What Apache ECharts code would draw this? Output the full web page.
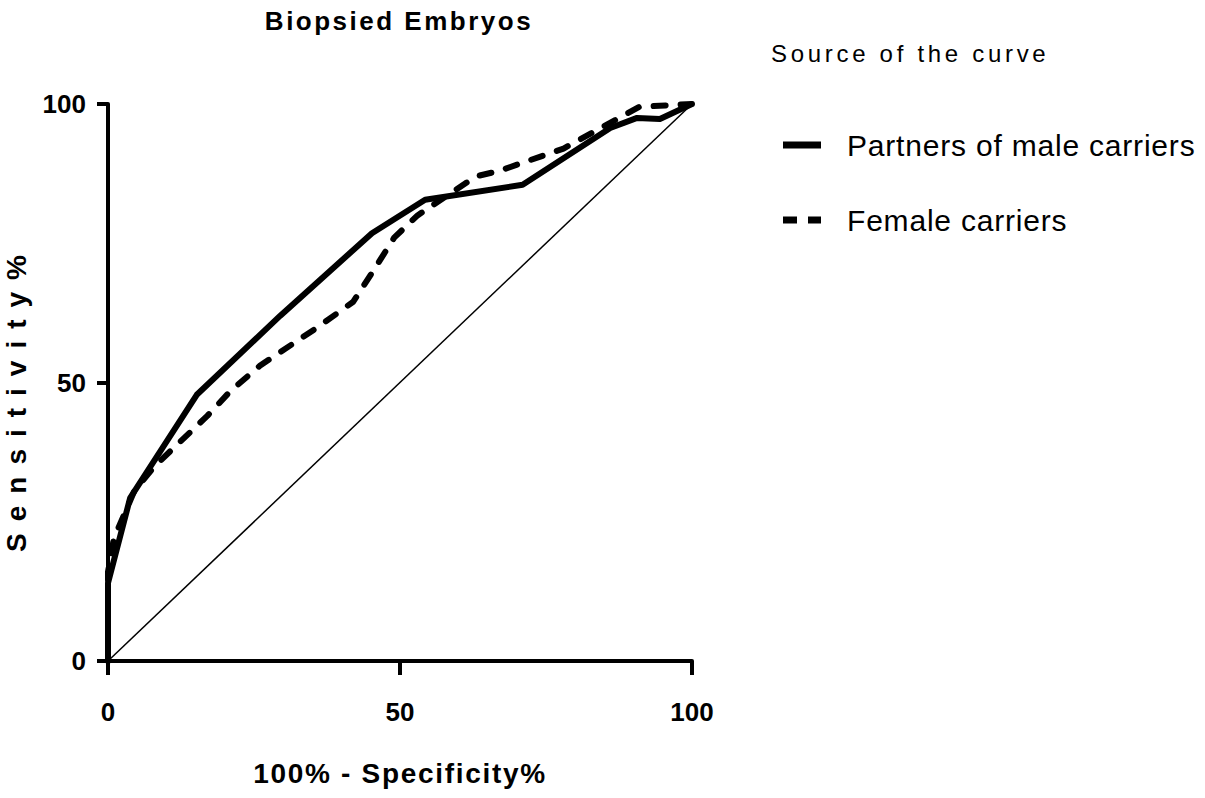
<!DOCTYPE html>
<html>
<head>
<meta charset="utf-8">
<script src="https://cdn.jsdelivr.net/npm/echarts@6/dist/echarts.min.js"></script>
<style>
html,body{margin:0;padding:0;background:#fff;}
#main{width:1205px;height:798px;}
</style>
</head>
<body>
<div id="main"></div>
<script>
// Data
const seriesNames = ['Partners of male carriers', 'Female carriers'];
const maleX = [0, 0, 3.8, 15.2, 29.5, 45.2, 54.3, 71, 86, 90.6, 94.5, 100];
const maleY = [0, 14, 29.3, 47.8, 62, 76.8, 82.8, 85.5, 95.7, 97.5, 97.3, 100];
const femaleX = [0, 0, 1, 4.5, 8, 17, 21, 26, 36, 42, 46, 49, 53, 63, 67, 78, 91, 100];
const femaleY = [0, 16, 22, 30.5, 35, 44, 48.5, 53, 60, 64.5, 71, 76, 80, 87, 88, 92, 99.5, 100];
const refX = [0, 100];
const refY = [0, 100];
const tickValues = [0, 50, 100];

const FONT = '"Liberation Sans", Arial, sans-serif';
const zip = (xs, ys) => xs.map((x, i) => [x, ys[i]]);

const chart = echarts.init(document.getElementById('main'), null, {renderer: 'svg'});
chart.setOption({
  animation: false,
  backgroundColor: '#fff',
  textStyle: {fontFamily: FONT, color: '#000'},
  title: [
    {text: 'Biopsied Embryos', left: 394, top: 3, textAlign: 'center',
     textStyle: {fontFamily: FONT, fontWeight: 'bold', fontSize: 26, color: '#000'}},
    {text: 'Source of the curve', left: 766, top: 36,
     textStyle: {fontFamily: FONT, fontWeight: 'normal', fontSize: 24, color: '#000'}}
  ],
  legend: {
    orient: 'vertical', left: 778, top: 125, itemWidth: 38, itemHeight: 7, itemGap: 45,
    data: [
      {name: seriesNames[0], icon: 'path://M0,0H38V7H0Z'},
      {name: seriesNames[1], icon: 'path://M0,0H14V7H0Z M25,0H38V7H25Z'}
    ],
    itemStyle: {color: '#000', borderWidth: 0},
    textStyle: {fontFamily: FONT, fontSize: 30, color: '#000', padding: [0, 0, 0, 21]},
    selectedMode: false
  },
  grid: {left: 108, right: 513, top: 104, bottom: 137, containLabel: false},
  xAxis: {
    type: 'value', min: 0, max: 100, interval: 50,
    name: '100% - Specificity%', nameLocation: 'middle', nameGap: 98,
    nameTextStyle: {fontFamily: FONT, fontWeight: 'bold', fontSize: 28, color: '#000'},
    axisLine: {show: true, lineStyle: {color: '#000', width: 4}},
    axisTick: {show: true, inside: false, length: 14, lineStyle: {color: '#000', width: 4}},
    axisLabel: {margin: 38, fontFamily: FONT, fontWeight: 'bold', fontSize: 26, color: '#000',
      formatter: v => tickValues.includes(v) ? String(v) : ''},
    splitLine: {show: false}
  },
  yAxis: {
    type: 'value', min: 0, max: 100, interval: 50,
    name: 'Sensitivity%', nameLocation: 'middle', nameGap: 78, nameRotate: 90,
    nameTextStyle: {fontFamily: FONT, fontWeight: 'bold', fontSize: 28, color: '#000', padding: [0, 30, 0, 0]},
    axisLine: {show: true, lineStyle: {color: '#000', width: 4}},
    axisTick: {show: true, inside: false, length: 11, lineStyle: {color: '#000', width: 4}},
    axisLabel: {margin: 22, fontFamily: FONT, fontWeight: 'bold', fontSize: 26, color: '#000',
      formatter: v => tickValues.includes(v) ? String(v) : ''},
    splitLine: {show: false}
  },
  series: [
    {name: seriesNames[0], type: 'line', data: zip(maleX, maleY), symbol: 'none',
     lineStyle: {color: '#000', width: 6, join: 'round'}, itemStyle: {color: '#000'}, z: 3},
    {name: seriesNames[1], type: 'line', data: zip(femaleX, femaleY), symbol: 'none',
     lineStyle: {color: '#000', width: 6, type: [12, 15], cap: 'round', join: 'round'}, itemStyle: {color: '#000'}, z: 4},
    {name: 'ref', type: 'line', data: zip(refX, refY), symbol: 'none',
     lineStyle: {color: '#000', width: 1.5}, z: 2}
  ]
});

const spacing = {
  'Biopsied Embryos': 2.5,
  'Source of the curve': 3.7,
  'Partners of male carriers': 0.8,
  'Female carriers': 0.8,
  '100% - Specificity%': 1.7,
  'Sensitivity%': 12
};
function applySpacing() {
  document.querySelectorAll('#main text').forEach(t => {
    const s = spacing[t.textContent];
    if (s !== undefined) t.style.letterSpacing = s + 'px';
  });
}
chart.on('finished', applySpacing);
applySpacing();
</script>
</body>
</html>
